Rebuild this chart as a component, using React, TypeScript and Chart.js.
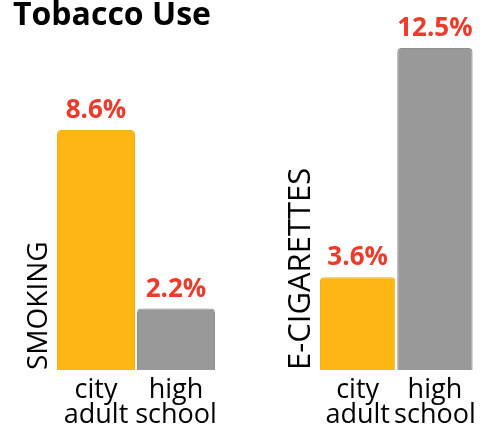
import React, { useEffect, useRef } from "react";
import { Chart, registerables } from "chart.js";

Chart.register(...registerables);

const categories: string[][] = [["city", "adult"], ["high", "school"]];
const smokingValues: number[] = [8.6, 2.2];
const ecigValues: number[] = [3.6, 12.5];
const barColors: string[] = ["#FDB614", "#999999"];
const barBorderColors: string[] = ["#F3AE12", "#8E8E8E"];
const panelTitles: string[] = ["SMOKING", "E-CIGARETTES"];
const chartTitle = "Tobacco Use";

const LABEL_RED = "#EC3B2A";
const FONT = "'Open Sans', sans-serif";

const valueLabels = {
  id: "valueLabels",
  afterDatasetsDraw(chart: any) {
    const ctx = chart.ctx;
    const meta = chart.getDatasetMeta(0);
    const data = chart.data.datasets[0].data as number[];
    ctx.save();
    ctx.font = `bold 26px ${FONT}`;
    ctx.fillStyle = LABEL_RED;
    ctx.textAlign = "center";
    ctx.textBaseline = "alphabetic";
    meta.data.forEach((bar: any, i: number) => {
      ctx.fillText(data[i].toFixed(1) + "%", bar.x, bar.y - 12);
    });
    ctx.restore();
  },
};

type PanelProps = {
  values: number[];
  title: string;
  yMax: number;
  width: number;
  left: number;
  axisWidth: number;
  padRight: number;
  titleSize: number;
  titlePad: number;
};

function Panel(props: PanelProps) {
  const ref = useRef<HTMLCanvasElement | null>(null);
  useEffect(() => {
    if (!ref.current) return;
    const chart = new Chart(ref.current, {
      type: "bar",
      data: {
        labels: categories,
        datasets: [
          {
            data: props.values,
            backgroundColor: barColors,
            borderColor: barBorderColors,
            borderWidth: 1,
            borderRadius: { topLeft: 4, topRight: 4, bottomLeft: 0, bottomRight: 0 },
            borderSkipped: "bottom",
            barPercentage: 0.975,
            categoryPercentage: 1,
          },
        ],
      },
      options: {
        animation: false,
        responsive: false,
        maintainAspectRatio: false,
        layout: { padding: { top: 35, right: props.padRight, left: 0, bottom: 0 } },
        plugins: {
          legend: { display: false },
          tooltip: { enabled: false },
          title: { display: false },
        },
        scales: {
          x: {
            grid: { display: false, drawTicks: false },
            border: { display: false },
            ticks: {
              color: "#000000",
              font: { family: FONT, size: 27, lineHeight: 0.92 },
              padding: 8,
              maxRotation: 0,
              minRotation: 0,
              autoSkip: false,
            },
            afterFit: (scale: any) => {
              scale.height = 58;
            },
          },
          y: {
            min: 0,
            max: props.yMax,
            grid: { display: false, drawTicks: false },
            border: { display: false },
            ticks: { display: false },
            title: {
              display: true,
              text: props.title,
              align: "start",
              color: "#000000",
              font: { family: FONT, size: props.titleSize, lineHeight: 1.2 },
              padding: { top: props.titlePad, bottom: 0 },
            },
            afterFit: (scale: any) => {
              scale.width = props.axisWidth;
            },
          },
        },
      },
      plugins: [valueLabels],
    } as any);
    return () => chart.destroy();
  }, []);
  return (
    <div style={{ position: "absolute", left: props.left, top: 0, width: props.width, height: 428 }}>
      <canvas ref={ref} width={props.width} height={428} style={{ width: props.width, height: 428, display: "block" }} />
    </div>
  );
}

export default function App() {
  return (
    <div
      style={{
        position: "absolute",
        left: 0,
        top: 0,
        width: 485,
        height: 428,
        overflow: "hidden",
        background: "#ffffff",
      }}
    >
      <Panel
        values={smokingValues}
        title={panelTitles[0]}
        yMax={12}
        width={245}
        left={0}
        axisWidth={56}
        padRight={29}
        titleSize={28}
        titlePad={22}
      />
      <Panel
        values={ecigValues}
        title={panelTitles[1]}
        yMax={13}
        width={240}
        left={245}
        axisWidth={74}
        padRight={5}
        titleSize={31}
        titlePad={38}
      />
      <div
        style={{
          position: "absolute",
          left: 13,
          top: -3,
          fontFamily: FONT,
          fontWeight: 700,
          fontSize: 32,
          lineHeight: "32px",
          color: "#000000",
          whiteSpace: "nowrap",
        }}
      >
        {chartTitle}
      </div>
    </div>
  );
}
